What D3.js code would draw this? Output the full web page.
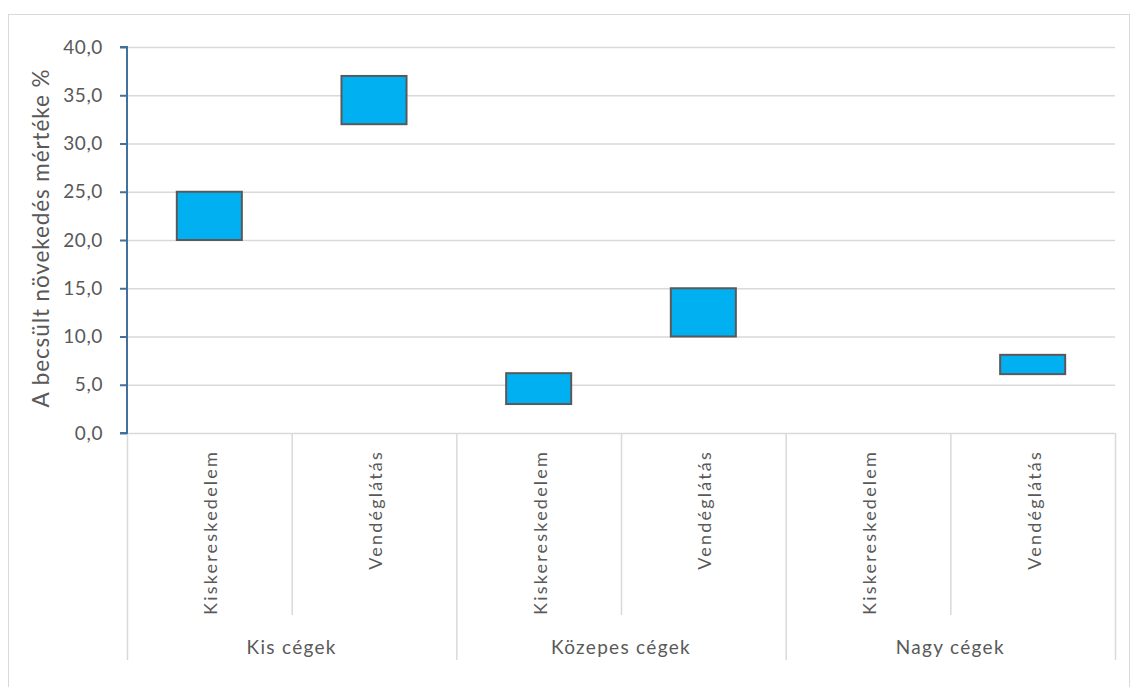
<!DOCTYPE html>
<html lang="hu">
<head>
<meta charset="utf-8" />
<title>Becsült növekedés</title>
<script src="https://d3js.org/d3.v7.min.js"></script>
<style>
    body { margin: 0; background: #fff; }
    text { font-family: Lato, "Open Sans", sans-serif; fill: #595959; }
</style>
</head>
<body>
<svg width="1137" height="687"></svg>
<script>
    // data
    var groups = ["Kis cégek", "Közepes cégek", "Nagy cégek"];
    var sectors = ["Kiskereskedelem", "Vendéglátás"];
    var lowVals  = [20, 32, 3, 10, null, 6.1];
    var highVals = [25, 37, 6.2, 15, null, 8.1];
    var yTicks = [0, 5, 10, 15, 20, 25, 30, 35, 40];

    var svg = d3.select("svg");

    // chart frame
    svg.append("rect")
        .attr("x", 8.5).attr("y", 14.5)
        .attr("width", 1121).attr("height", 680)
        .attr("fill", "none").attr("stroke", "#d9d9d9");

    var plotLeft = 127, plotRight = 1115, plotTop = 47, plotBottom = 433;

    var cats = [];
    groups.forEach(function (g, gi) {
        sectors.forEach(function (s, si) {
            cats.push({ key: g + "|" + s, group: g, sector: s, i: gi * 2 + si });
        });
    });

    var x = d3.scaleBand()
        .domain(cats.map(function (d) { return d.key; }))
        .range([plotLeft, plotRight])
        .paddingInner(0).paddingOuter(0);

    var y = d3.scaleLinear().domain([0, 40]).range([plotBottom, plotTop]);

    // gridlines
    svg.append("g")
        .selectAll("line")
        .data(yTicks.filter(function (t) { return t > 0; }))
        .enter().append("line")
            .attr("x1", plotLeft).attr("x2", plotRight)
            .attr("y1", function (d) { return y(d) + 0.5; })
            .attr("y2", function (d) { return y(d) + 0.5; })
            .attr("stroke", "#d9d9d9").attr("stroke-width", 1.5);

    // category axis lines
    svg.append("line")
        .attr("x1", plotLeft).attr("x2", plotRight)
        .attr("y1", plotBottom + 0.5).attr("y2", plotBottom + 0.5)
        .attr("stroke", "#d9d9d9").attr("stroke-width", 1.5);

    var catBottom = 615, grpBottom = 660;
    var sepG = svg.append("g");
    cats.forEach(function (c, i) {
        var xs = x(c.key);
        var isGroupEdge = (i % 2 === 0);
        sepG.append("line")
            .attr("x1", xs + 0.5).attr("x2", xs + 0.5)
            .attr("y1", plotBottom).attr("y2", isGroupEdge ? grpBottom : catBottom)
            .attr("stroke", "#d9d9d9").attr("stroke-width", 1.5);
    });
    sepG.append("line")
        .attr("x1", plotRight + 0.5).attr("x2", plotRight + 0.5)
        .attr("y1", plotBottom).attr("y2", grpBottom)
        .attr("stroke", "#d9d9d9").attr("stroke-width", 1.5);

    // floating bars
    var barW = x.bandwidth() * 0.395;
    svg.append("g")
        .selectAll("rect")
        .data(cats.filter(function (c) { return lowVals[c.i] != null; }))
        .enter().append("rect")
            .attr("x", function (d) { return x(d.key) + x.bandwidth() / 2 - barW / 2; })
            .attr("y", function (d) { return y(highVals[d.i]); })
            .attr("width", barW)
            .attr("height", function (d) { return y(lowVals[d.i]) - y(highVals[d.i]); })
            .attr("fill", "#00b0f0")
            .attr("stroke", "#595959")
            .attr("stroke-width", 2);

    // y axis
    var yAxis = d3.axisLeft(y)
        .tickValues(yTicks)
        .tickSize(7)
        .tickPadding(17)
        .tickFormat(function (d) { return d.toFixed(1).replace(".", ","); });

    var ya = svg.append("g")
        .attr("transform", "translate(" + plotLeft + ",0)")
        .call(yAxis);
    ya.select(".domain").attr("stroke", "#41719c").attr("stroke-width", 2)
        .attr("d", "M-7," + plotTop + "H0V" + plotBottom + "H-7");
    ya.selectAll(".tick line").attr("stroke", "#41719c").attr("stroke-width", 2);
    ya.selectAll(".tick text")
        .style("font-size", "19px")
        .style("letter-spacing", "0.6px")
        .attr("fill", "#595959");

    // y axis title
    svg.append("text")
        .attr("transform", "translate(40," + ((plotTop + plotBottom) / 2 - 2) + ") rotate(-90)")
        .attr("text-anchor", "middle")
        .attr("dominant-baseline", "central")
        .style("font-size", "22.5px")
        .style("letter-spacing", "0.9px")
        .text("A becsült növekedés mértéke %");

    // sector labels (rotated)
    svg.append("g")
        .selectAll("text")
        .data(cats)
        .enter().append("text")
            .attr("transform", function (d) {
                return "translate(" + (x(d.key) + x.bandwidth() / 2 + 1) + ",450) rotate(-90)";
            })
            .attr("text-anchor", "end")
            .attr("dominant-baseline", "central")
            .style("font-size", "18px")
            .style("letter-spacing", "2.2px")
            .text(function (d) { return d.sector; });

    // group labels
    var groupWidth = x.bandwidth() * 2;
    svg.append("g")
        .selectAll("text")
        .data(groups)
        .enter().append("text")
            .attr("x", function (d, i) { return plotLeft + groupWidth * i + groupWidth / 2; })
            .attr("y", 654)
            .attr("text-anchor", "middle")
            .style("font-size", "19px")
            .style("letter-spacing", "1.3px")
            .text(function (d) { return d; });
</script>
</body>
</html>
